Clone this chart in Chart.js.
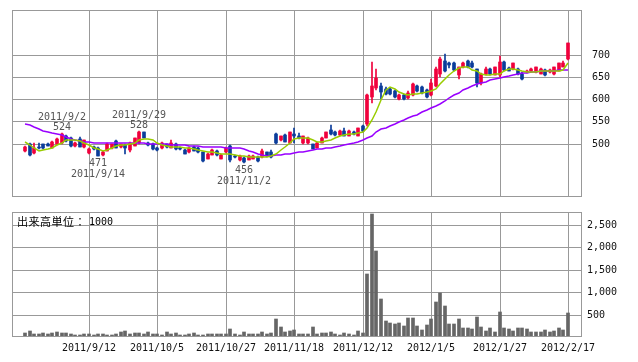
<!DOCTYPE html>
<html>
<head>
<meta charset="utf-8">
<script src="https://cdn.jsdelivr.net/npm/chart.js@4.4.1/dist/chart.umd.min.js"></script>
<style>
  html, body { margin: 0; padding: 0; background: #fff; }
  #wrap { position: relative; width: 638px; height: 362px; }
  #priceChart { position: absolute; left: 0; top: 0; }
  #volChart { position: absolute; left: 0; top: 205px; }
</style>
</head>
<body>
<div id="wrap">
  <canvas id="priceChart" width="638" height="205"></canvas>
  <canvas id="volChart" width="638" height="157"></canvas>
</div>
<script>
/* ================= DATA (one entry per trading day, 2011/8/23 .. 2012/2/17) ================= */
const opens = [
  484,500,478,493,498,500,491,498,502,518,
  513,494,510,492,478,492,491,474,484,489,
  505,492,496,485,495,502,525,502,500,491,
  489,499,491,500,491,486,480,493,491,480,
  466,475,484,466,480,495,472,462,467,464,
  466,469,469,480,482,522,507,520,502,522,
  518,502,502,498,491,502,513,531,527,520,
  529,518,527,518,540,545,605,624,630,623,
  623,619,599,608,603,608,630,628,621,608,
  630,657,686,680,680,653,671,686,682,667,
  635,657,668,655,653,684,670,668,668,657,
  660,662,660,657,666,660,657,664,673,691
];
const closes = [
  493,474,491,489,489,495,504,511,521,505,
  494,502,493,508,488,488,473,482,499,498,
  491,499,489,501,512,526,513,496,487,485,
  502,492,502,487,487,477,491,484,480,460,
  477,486,474,475,489,462,469,471,458,473,
  473,460,484,471,469,502,516,504,525,516,
  513,516,513,488,502,513,525,522,520,529,
  518,529,522,534,529,610,630,648,615,612,
  612,605,610,599,614,634,617,614,605,637,
  668,690,664,677,666,671,682,671,671,635,
  657,668,657,671,684,666,664,680,657,646,
  664,668,671,668,653,666,671,680,680,725
];
const highs = [
  495,502,502,502,499,501,506,512,524,520,
  515,504,514,509,490,494,492,484,501,499,
  509,500,498,503,513,528,526,504,501,493,
  504,500,507,501,492,488,493,495,492,481,
  478,488,486,477,493,496,474,475,469,475,
  474,471,487,482,486,524,518,522,527,534,
  524,518,515,500,504,515,527,541,529,531,
  534,531,529,536,542,612,683,668,636,626,
  625,620,612,612,619,636,632,630,623,645,
  672,694,702,683,684,673,684,688,686,668,
  659,673,670,673,697,686,673,682,670,660,
  666,670,673,670,668,668,673,682,685,725
];
const lows = [
  482,473,477,487,488,494,490,497,500,503,
  492,492,492,490,476,486,471,473,483,488,
  490,490,476,482,494,500,512,494,485,484,
  488,490,490,486,485,476,479,483,479,458,
  465,474,472,465,478,458,467,461,456,463,
  465,459,467,469,467,500,505,504,502,502,
  511,500,500,487,490,501,512,520,518,518,
  516,517,520,516,527,540,592,620,600,610,
  608,603,598,598,601,606,615,612,603,606,
  628,650,660,670,664,645,670,669,669,628,
  632,655,655,653,650,664,662,666,655,643,
  658,660,659,656,651,659,655,662,671,688
];
// short moving average (yellow-green)
const maShort = [
  504,497,490,484,486,488,491,497,502,507,
  509,508,506,501,497,491,487,484,486,489,
  494,496,497,498,501,507,511,510,509,502,
  497,495,493,493,492,491,490,488,486,483,
  481,480,479,477,477,476,475,473,471,469,
  469,469,469,470,472,477,486,493,501,510,
  513,513,513,509,504,504,505,509,512,517,
  519,521,522,523,525,535,552,572,598,620,
  626,623,615,611,610,611,612,613,615,618,
  622,633,645,655,663,670,671,671,666,663,
  657,655,655,656,657,664,667,668,666,662,
  660,660,661,662,662,662,663,663,666,680
];
// long moving average (purple)
const maLong = [
  545,541,537,533,529,526,523,521,519,515,
  511,508,506,504,503,502,502,502,502,502,
  502,502,502,502,502,501,501,500,500,499,
  498,498,497,497,496,496,495,495,494,493,
  493,493,492,492,491,491,490,489,487,484,
  480,477,474,473,473,474,475,476,477,478,
  480,481,483,485,487,488,490,491,493,495,
  497,499,501,503,507,512,518,525,532,536,
  540,544,548,553,557,561,565,570,575,580,
  585,590,596,602,608,614,620,625,630,634,
  636,639,642,645,648,650,652,654,656,658,
  659,660,661,662,663,664,664,665,665,666
];
// volume, unit 1000 shares
const volumes = [
  96,133,60,60,89,74,96,111,96,89,
  60,44,52,67,67,44,67,60,44,44,
  60,104,133,74,89,89,74,111,67,67,
  44,111,74,81,52,44,67,89,44,44,
  67,67,67,67,67,178,60,44,111,60,
  60,67,111,67,89,400,222,111,133,148,
  60,60,60,222,60,81,81,104,60,44,
  81,60,44,133,96,1400,2733,1911,844,356,
  318,289,318,244,430,430,244,156,267,407,
  778,985,689,289,289,400,207,207,178,444,
  230,133,207,104,556,207,185,133,207,207,
  178,111,111,111,156,111,141,207,156,526
];

const tickIdx    = [14, 29, 44, 59, 74, 89, 104, 119];
const tickLabels = ["2011/9/12","2011/10/5","2011/10/27","2011/11/18","2011/12/12","2012/1/5","2012/1/27","2012/2/17"];
const priceTicks = [500, 550, 600, 650, 700];
const volTicks   = [500, 1000, 1500, 2000, 2500];

const markIdx  = [8, 16, 25, 48];
const markKind = ["high", "low", "high", "low"];
const markDate = ["2011/9/2", "2011/9/14", "2011/9/29", "2011/11/2"];

/* ================= STYLE ================= */
const RED = "#f0003c", BLUE = "#0a3c9a", GREEN = "#99cc00", PURPLE = "#9900ff";
const GRID = "#999", TXT = "#111", MONO = '"DejaVu Sans Mono", monospace';
const X_MIN = -2.87, X_MAX = 122.07;

const candleColor = ctx => closes[ctx.dataIndex] >= opens[ctx.dataIndex] ? RED : BLUE;

/* ================= PLUGINS ================= */
const frame = {
  id: "frame",
  afterDraw(c) {
    const a = c.chartArea, g = c.ctx;
    g.save();
    g.strokeStyle = GRID;
    g.lineWidth = 1;
    g.strokeRect(Math.round(a.left) + 0.5, Math.round(a.top) + 0.5,
                 Math.round(a.right - a.left) - 1, Math.round(a.bottom - a.top) - 1);
    g.restore();
  }
};

const marks = {
  id: "marks",
  afterDatasetsDraw(c) {
    const xs = c.scales.x, ys = c.scales.y, g = c.ctx;
    g.save();
    g.font = "10px " + MONO;
    g.fillStyle = "#555";
    g.textAlign = "center";
    g.textBaseline = "middle";
    markIdx.forEach((i, k) => {
      const px = xs.getPixelForValue(i);
      if (markKind[k] === "high") {
        const py = ys.getPixelForValue(highs[i]);
        g.fillText(String(highs[i]), px, py - 5.5);
        g.fillText(markDate[k], px, py - 16);
      } else {
        const py = ys.getPixelForValue(lows[i]);
        g.fillText(String(lows[i]), px, py + 7);
        g.fillText(markDate[k], px, py + 18.5);
      }
    });
    g.restore();
  }
};

const unitLabel = {
  id: "unitLabel",
  afterDraw(c) {
    const g = c.ctx;
    g.save();
    g.fillStyle = "#000";
    g.textBaseline = "middle";
    g.font = '11px "Noto Sans CJK JP"';
    g.letterSpacing = "0.5px";
    g.fillText("出来高単位：", 17, 17);
    g.letterSpacing = "0px";
    g.font = "10px " + MONO;
    g.fillText("1000", 89, 17);
    g.restore();
  }
};

const setXTicks = s => { s.ticks = tickIdx.map(v => ({ value: v })); };
// keep label overhang from shrinking the plot area
const noPad = s => { s.paddingTop = 0; s.paddingBottom = 0; s.paddingLeft = 0; s.paddingRight = 0; };

/* ================= PRICE CHART ================= */
new Chart(document.getElementById("priceChart"), {
  type: "bar",
  data: {
    datasets: [
      { type: "line", data: maShort.map((v, i) => ({ x: i, y: v })), borderColor: GREEN,
        borderWidth: 1.5, pointRadius: 0, tension: 0, order: 0 },
      { type: "line", data: maLong.map((v, i) => ({ x: i, y: v })), borderColor: PURPLE,
        borderWidth: 1.5, pointRadius: 0, tension: 0, order: 1 },
      { data: opens.map((o, i) => ({ x: i, y: [o, closes[i]] })), backgroundColor: candleColor,
        barThickness: 3, grouped: false, minBarLength: 1, order: 2 },
      { data: lows.map((l, i) => ({ x: i, y: [l, highs[i]] })), backgroundColor: candleColor,
        barThickness: 1, grouped: false, order: 3 }
    ]
  },
  options: {
    responsive: false,
    animation: false,
    layout: { padding: { left: 12, top: 10, right: 0, bottom: 8 } },
    plugins: { legend: { display: false }, tooltip: { enabled: false } },
    scales: {
      x: {
        type: "linear", min: X_MIN, max: X_MAX, offset: false, alignToPixels: true,
        afterBuildTicks: setXTicks,
        ticks: { display: false },
        grid: { color: GRID, drawTicks: false, offset: false },
        border: { display: false },
        afterFit: s => { s.height = 0; noPad(s); }
      },
      y: {
        position: "right", min: 380, max: 800, alignToPixels: true,
        afterBuildTicks: s => { s.ticks = priceTicks.map(v => ({ value: v })); },
        ticks: { padding: 10, color: TXT, font: { family: MONO, size: 10 } },
        grid: { color: GRID, drawTicks: false },
        border: { display: false },
        afterFit: s => { s.width = 56; noPad(s); }
      }
    }
  },
  plugins: [frame, marks]
});

/* ================= VOLUME CHART ================= */
new Chart(document.getElementById("volChart"), {
  type: "bar",
  data: {
    datasets: [
      { data: volumes.map((v, i) => ({ x: i, y: v })), backgroundColor: "#666",
        barThickness: 3, grouped: false }
    ]
  },
  options: {
    responsive: false,
    animation: false,
    layout: { padding: { left: 12, top: 7, right: 0, bottom: 0 } },
    plugins: { legend: { display: false }, tooltip: { enabled: false } },
    scales: {
      x: {
        type: "linear", min: X_MIN, max: X_MAX, offset: false, alignToPixels: true,
        afterBuildTicks: setXTicks,
        ticks: { autoSkip: false, maxRotation: 0, padding: 5, color: TXT,
                 font: { family: MONO, size: 10 }, callback: (v, i) => tickLabels[i] },
        grid: { color: GRID, drawTicks: false, offset: false },
        border: { display: false },
        afterFit: s => { s.height = 25; noPad(s); }
      },
      y: {
        position: "right", min: 0, max: 2780, alignToPixels: true,
        afterBuildTicks: s => { s.ticks = volTicks.map(v => ({ value: v })); },
        ticks: { padding: 5, color: TXT, font: { family: MONO, size: 10 },
                 callback: v => v.toLocaleString("en-US") },
        grid: { color: GRID, drawTicks: false },
        border: { display: false },
        afterFit: s => { s.width = 56; noPad(s); }
      }
    }
  },
  plugins: [frame, unitLabel]
});
</script>
</body>
</html>
